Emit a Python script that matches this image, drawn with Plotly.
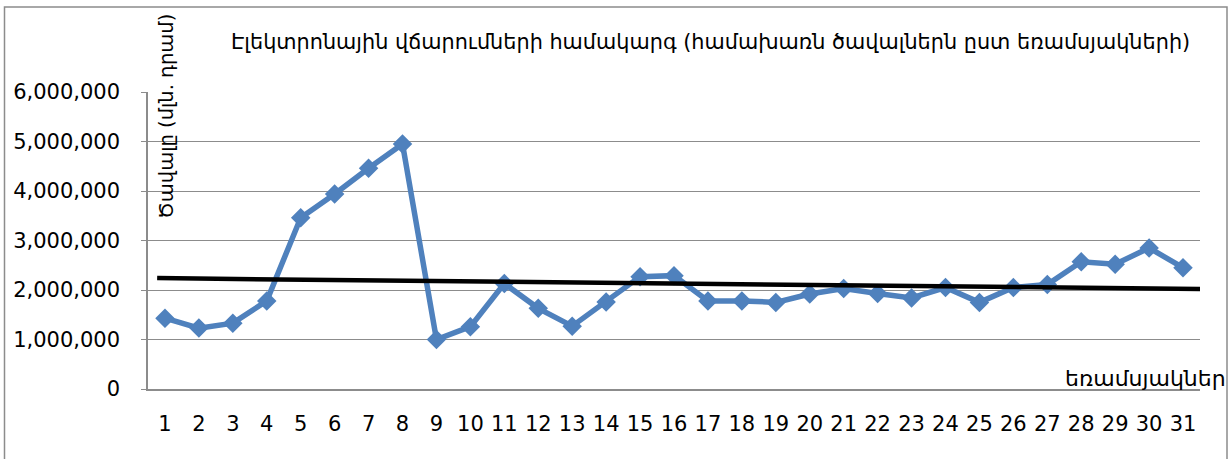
import plotly.graph_objects as go

quarters = list(range(1, 32))
volumes = [1430000, 1230000, 1330000, 1780000, 3460000, 3940000, 4460000, 4950000,
           1000000, 1260000, 2130000, 1630000, 1270000, 1760000, 2270000, 2290000,
           1780000, 1780000, 1750000, 1920000, 2030000, 1930000, 1840000, 2050000,
           1750000, 2050000, 2110000, 2570000, 2520000, 2850000, 2450000]
trend_x = [0.77, 31.5]
trend_y = [2240000, 2020000]
y_ticks = [0, 1000000, 2000000, 3000000, 4000000, 5000000, 6000000]

title_text = "Էլեկտրոնային վճարումների համակարգ (համախառն ծավալներն ըստ եռամսյակների)"
y_title = "Ծավալը (մլն. դրամ)"
x_title = "եռամսյակներ"

W, H = 1230, 459
L, R, T, B = 148, 30, 92, 70
pw, ph = W - L - R, H - T - B

def px(x):
    return (x - L) / pw

def py(y):
    return (H - B - y) / ph

fig = go.Figure()
fig.add_trace(go.Scatter(
    x=quarters, y=volumes, mode="lines+markers",
    line=dict(color="#4F81BD", width=5.5),
    marker=dict(symbol="diamond", size=15, color="#4F81BD"),
    showlegend=False, hoverinfo="x+y"))
fig.add_trace(go.Scatter(
    x=trend_x, y=trend_y, mode="lines",
    line=dict(color="black", width=4.5),
    showlegend=False, hoverinfo="skip"))

tick_font = dict(family="DejaVu Sans", size=21, color="black")
arm_font = "DejaVu Sans"

fig.update_layout(
    width=W, height=H,
    margin=dict(l=L, r=R, t=T, b=B, autoexpand=False),
    paper_bgcolor="white", plot_bgcolor="white",
    xaxis=dict(range=[0.5, 31.5], tickmode="array", tickvals=quarters,
               ticktext=[str(q) for q in quarters], automargin=False,
               showgrid=False, zeroline=False, showline=True,
               linecolor="#8C8C8C", linewidth=1.5,
               ticks="outside", ticklen=15, tickcolor="rgba(0,0,0,0)",
               tickfont=tick_font),
    yaxis=dict(range=[0, 6000000], tickmode="array", tickvals=y_ticks,
               ticktext=[f"{v:,}" for v in y_ticks], automargin=False,
               showgrid=True, gridcolor="#8C8C8C", gridwidth=1,
               zeroline=False, showline=True, linecolor="#8C8C8C", linewidth=1.5,
               ticks="outside", ticklen=5, tickcolor="#8C8C8C",
               ticklabelstandoff=17,
               tickfont=tick_font),
    annotations=[
        dict(text=title_text, x=px(710), y=py(42), xref="paper", yref="paper",
             xanchor="center", yanchor="middle", showarrow=False,
             font=dict(family=arm_font, size=20.8, color="black")),
        dict(text=y_title, x=px(167), y=py(117), xref="paper", yref="paper",
             xanchor="center", yanchor="middle", showarrow=False, textangle=-90,
             font=dict(family=arm_font, size=19.5, color="black")),
        dict(text=x_title, x=px(1228), y=py(378), xref="paper", yref="paper",
             xanchor="right", yanchor="middle", showarrow=False,
             font=dict(family=arm_font, size=22, color="black")),
    ],
    shapes=[
        dict(type="rect", xref="paper", yref="paper",
             x0=px(4.5), x1=px(1227), y0=py(470), y1=py(7),
             line=dict(color="#8C8C8C", width=1.5), fillcolor="rgba(0,0,0,0)",
             layer="below"),
    ],
)

fig.write_html("out.html",
               config={"displayModeBar": False},
               post_script="document.body.style.margin='0';document.body.style.overflow='hidden';")
